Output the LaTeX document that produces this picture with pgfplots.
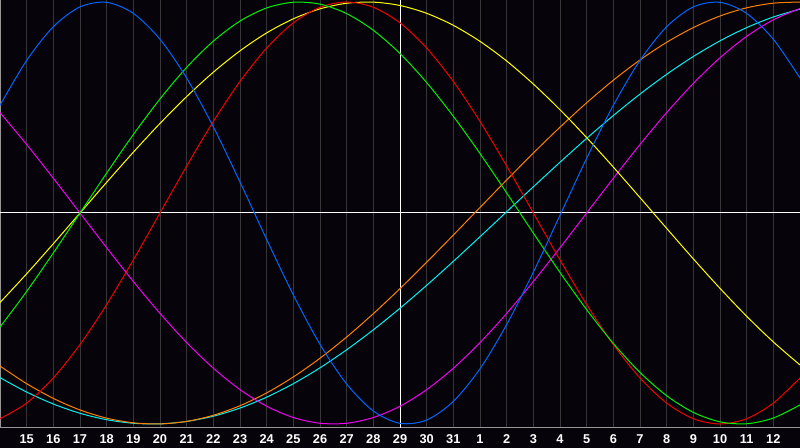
\documentclass[border=0pt]{standalone}
\usepackage{pgfplots}
\pgfplotsset{compat=1.18}
\usepackage{pgfplotstable}
\usepackage{fontspec}
\setmainfont{Liberation Sans}

\definecolor{bg}{RGB}{6,4,10}
\definecolor{gridc}{RGB}{55,55,58}
\definecolor{frame}{RGB}{150,150,150}
\definecolor{cblue}{RGB}{0,102,255}
\definecolor{cgreen}{RGB}{0,240,0}
\definecolor{cred}{RGB}{240,0,0}
\definecolor{cyellow}{RGB}{255,255,0}
\definecolor{cmag}{RGB}{240,0,240}
\definecolor{corange}{RGB}{255,128,0}
\definecolor{ccyan}{RGB}{0,240,240}

% day index (0 = 14th), value of each cycle
\pgfplotstableread{
k  phys    intel   emot    aesth   intu    aware   spir
0  0.5103 -0.5406 -0.9749 -0.4245  0.4759 -0.7254 -0.7803
1  0.7233 -0.3717 -0.9010 -0.2881  0.3247 -0.8090 -0.8487
2  0.8829 -0.1893 -0.7818 -0.1456  0.1646 -0.8788 -0.9053
3  0.9768  0.0000 -0.6235  0.0000  0.0000 -0.9336 -0.9492
4  0.9984  0.1893 -0.4339  0.1456 -0.1646 -0.9724 -0.9798
5  0.9459  0.3717 -0.2225  0.2881 -0.3247 -0.9945 -0.9966
6  0.8233  0.5406  0.0000  0.4245 -0.4759 -0.9997 -0.9994
7  0.6396  0.6901  0.2225  0.5517 -0.6142 -0.9877 -0.9881
8  0.4083  0.8146  0.4339  0.6673 -0.7357 -0.9588 -0.9631
9  0.1470  0.9096  0.6235  0.7685 -0.8372 -0.9135 -0.9245
10 -0.1253  0.9718  0.7818  0.8535 -0.9158 -0.8526 -0.8729
11 -0.3884  0.9989  0.9010  0.9204 -0.9694 -0.7771 -0.8090
12 -0.6225  0.9898  0.9749  0.9675 -0.9966 -0.6884 -0.7338
13 -0.8105  0.9450  1.0000  0.9940 -0.9966 -0.5878 -0.6483
14 -0.9386  0.8660  0.9749  0.9993 -0.9694 -0.4772 -0.5537
15 -0.9969  0.7557  0.9010  0.9834 -0.9158 -0.3584 -0.4514
16 -0.9813  0.6182  0.7818  0.9464 -0.8372 -0.2334 -0.3427
17 -0.8929  0.4582  0.6235  0.8893 -0.7357 -0.1045 -0.2292
18 -0.7383  0.2817  0.4339  0.8135 -0.6142  0.0262 -0.1124
19 -0.5288  0.0951  0.2225  0.7203 -0.4759  0.1564  0.0059
20 -0.2803 -0.0951  0.0000  0.6111 -0.3247  0.2840  0.1241
21 -0.0108 -0.2817 -0.2225  0.4894 -0.1646  0.4067  0.2406
22  0.2593 -0.4582 -0.4339  0.3572  0.0000  0.5225  0.3538
23  0.5103 -0.6182 -0.6235  0.2174  0.1646  0.6293  0.4619
24  0.7233 -0.7557 -0.7818  0.0730  0.3247  0.7254  0.5636
25  0.8829 -0.8660 -0.9010 -0.0730  0.4759  0.8090  0.6573
26  0.9768 -0.9450 -0.9749 -0.2174  0.6142  0.8788  0.7418
27  0.9984 -0.9898 -1.0000 -0.3572  0.7357  0.9336  0.8159
28  0.9459 -0.9989 -0.9749 -0.4894  0.8372  0.9724  0.8786
29  0.8233 -0.9718 -0.9010 -0.6111  0.9158  0.9945  0.9290
30  0.6396 -0.9096 -0.7818 -0.7203  0.9694  0.9997  0.9662
}\cycles

\begin{document}
\begin{tikzpicture}
\fill[bg] (0,-15pt) rectangle (600pt,321pt);
\begin{axis}[
    at={(0,0)}, anchor=south west,
    scale only axis,
    width=600pt, height=321pt,
    xmin=0, xmax=30,
    ymin=-1.019, ymax=1.0095,
    axis background/.style={fill=bg},
    axis line style={draw=frame, line width=0.75pt},
    xtick={1,...,29},
    xticklabels={15,16,17,18,19,20,21,22,23,24,25,26,27,28,29,30,31,1,2,3,4,5,6,7,8,9,10,11,12},
    ytick=\empty,
    major tick length=0pt,
    xmajorgrids,
    major grid style={draw=gridc, line width=0.75pt},
    xticklabel style={anchor=center, yshift=-8.3pt, text=white,
        font=\bfseries\fontsize{9.6}{11}\selectfont},
    every axis plot/.append style={line width=0.75pt, smooth, no marks},
]
\draw[white, line width=0.75pt] (axis cs:15,-1.1) -- (axis cs:15,1.1);
\draw[white, line width=0.75pt] (axis cs:0,0) -- (axis cs:30,0);
\addplot[ccyan] table[x=k, y=spir] {\cycles};
\addplot[corange] table[x=k, y=aware] {\cycles};
\addplot[cmag] table[x=k, y=intu] {\cycles};
\addplot[cyellow] table[x=k, y=aesth] {\cycles};
\addplot[cred] table[x=k, y=emot] {\cycles};
\addplot[cgreen] table[x=k, y=intel] {\cycles};
\addplot[cblue] table[x=k, y=phys] {\cycles};
\end{axis}
\pgfresetboundingbox
\useasboundingbox (0,-15pt) rectangle (600pt,321pt);
\end{tikzpicture}
\end{document}
